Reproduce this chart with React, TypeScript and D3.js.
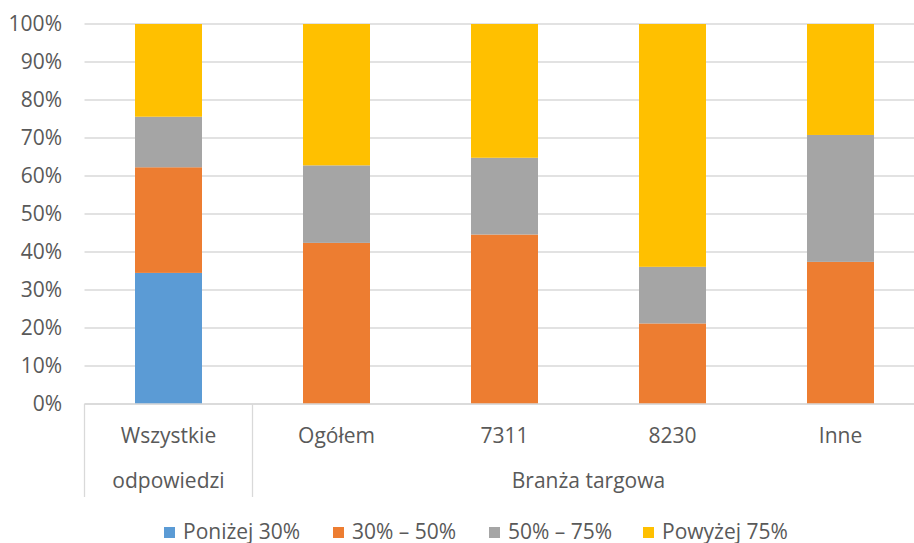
import React, { useEffect, useRef } from "react";
import * as d3 from "d3";

const categories = ["Wszystkie|odpowiedzi", "Ogółem", "7311", "8230", "Inne"];
const groupLabel = "Branża targowa";
const seriesNames = ["Poniżej 30%", "30% – 50%", "50% – 75%", "Powyżej 75%"];
const seriesColors = ["#5b9bd5", "#ed7d31", "#a5a5a5", "#ffc000"];

const below30 = [34.5, 0, 0, 0, 0];
const from30to50 = [27.8, 42.4, 44.6, 21.2, 37.4];
const from50to75 = [13.3, 20.4, 20.2, 14.9, 33.4];
const above75 = [24.4, 37.2, 35.2, 63.9, 29.2];

const yTicks = [0, 10, 20, 30, 40, 50, 60, 70, 80, 90, 100];

const FONT = '"Open Sans", "Noto Sans", sans-serif';
const FS = "21px";

export default function App() {
    const ref = useRef<SVGSVGElement | null>(null);

    useEffect(() => {
        const width = 914;
        const plotTop = 24,
            plotBottom = 404,
            plotLeft = 84.5;
        const step = 168;

        const svg = d3.select(ref.current);
        svg.selectAll("*").remove();

        const rows = categories.map((c, i) => ({
            cat: c,
            s0: below30[i],
            s1: from30to50[i],
            s2: from50to75[i],
            s3: above75[i],
        }));

        const x = d3.scaleBand()
            .domain(categories)
            .range([plotLeft, plotLeft + step * categories.length])
            .paddingInner(0.6)
            .paddingOuter(0.3);

        const y = d3.scaleLinear()
            .domain([0, 100])
            .range([plotBottom, plotTop]);

        // gridlines
        svg.append("g")
            .selectAll("line")
            .data(yTicks)
            .enter()
            .append("line")
            .attr("x1", plotLeft)
            .attr("x2", width)
            .attr("y1", d => y(d))
            .attr("y2", d => y(d))
            .attr("stroke", "#d9d9d9")
            .attr("stroke-width", 1.3);

        // y labels
        svg.append("g")
            .selectAll("text")
            .data(yTicks)
            .enter()
            .append("text")
            .attr("x", 62)
            .attr("y", d => y(d))
            .attr("dy", "0.35em")
            .attr("text-anchor", "end")
            .style("font-family", FONT)
            .style("font-size", FS)
            .attr("fill", "#595959")
            .text(d => d + "%");

        const stack = d3.stack<any>().keys(["s0", "s1", "s2", "s3"]);
        const layers = stack(rows);

        const bw = 67;
        svg.append("g")
            .selectAll("g")
            .data(layers)
            .enter()
            .append("g")
            .attr("fill", (d, i) => seriesColors[i])
            .selectAll("rect")
            .data(d => d)
            .enter()
            .append("rect")
            .attr("x", d => (x(d.data.cat) as number) + x.bandwidth() / 2 - bw / 2)
            .attr("width", bw)
            .attr("y", d => y(d[1]))
            .attr("height", d => y(d[0]) - y(d[1]));

        // axis line
        svg.append("line")
            .attr("x1", plotLeft)
            .attr("x2", width)
            .attr("y1", plotBottom)
            .attr("y2", plotBottom)
            .attr("stroke", "#d9d9d9")
            .attr("stroke-width", 1.3);

        // group separators
        const seps = [plotLeft, plotLeft + step, plotLeft + step * categories.length];
        svg.append("g")
            .selectAll("line")
            .data(seps)
            .enter()
            .append("line")
            .attr("x1", d => d)
            .attr("x2", d => d)
            .attr("y1", plotBottom)
            .attr("y2", 497)
            .attr("stroke", "#d9d9d9")
            .attr("stroke-width", 1.3);

        // category labels
        const catText = svg.append("g")
            .selectAll("text")
            .data(categories)
            .enter()
            .append("text")
            .attr("x", d => (x(d) as number) + x.bandwidth() / 2)
            .attr("y", 443)
            .attr("text-anchor", "middle")
            .style("font-family", FONT)
            .style("font-size", FS)
            .attr("fill", "#595959");
        catText.each(function (d) {
            const parts = d.split("|");
            const t = d3.select(this);
            parts.forEach((p, k) => {
                t.append("tspan")
                    .attr("x", (x(d) as number) + x.bandwidth() / 2)
                    .attr("dy", k === 0 ? 0 : 45)
                    .text(p);
            });
        });

        svg.append("text")
            .attr("x", (plotLeft + step + plotLeft + step * categories.length) / 2)
            .attr("y", 488)
            .attr("text-anchor", "middle")
            .style("font-family", FONT)
            .style("font-size", FS)
            .attr("fill", "#595959")
            .text(groupLabel);

        // legend
        const legendX = [164, 333, 489, 643];
        const legend = svg.append("g")
            .selectAll("g")
            .data(seriesNames)
            .enter()
            .append("g")
            .attr("transform", (d, i) => `translate(${legendX[i]},532)`);
        legend.append("rect")
            .attr("x", 0)
            .attr("y", -5)
            .attr("width", 11)
            .attr("height", 11)
            .attr("fill", (d, i) => seriesColors[i]);
        legend.append("text")
            .attr("x", 19)
            .attr("y", 0)
            .attr("dy", "0.35em")
            .style("font-family", FONT)
            .style("font-size", FS)
            .attr("fill", "#595959")
            .text(d => d);
    }, []);

    return (
        <svg
            ref={ref}
            width={914}
            height={543}
            style={{ position: "absolute", left: 0, top: 0, background: "#fff" }}
        />
    );
}
